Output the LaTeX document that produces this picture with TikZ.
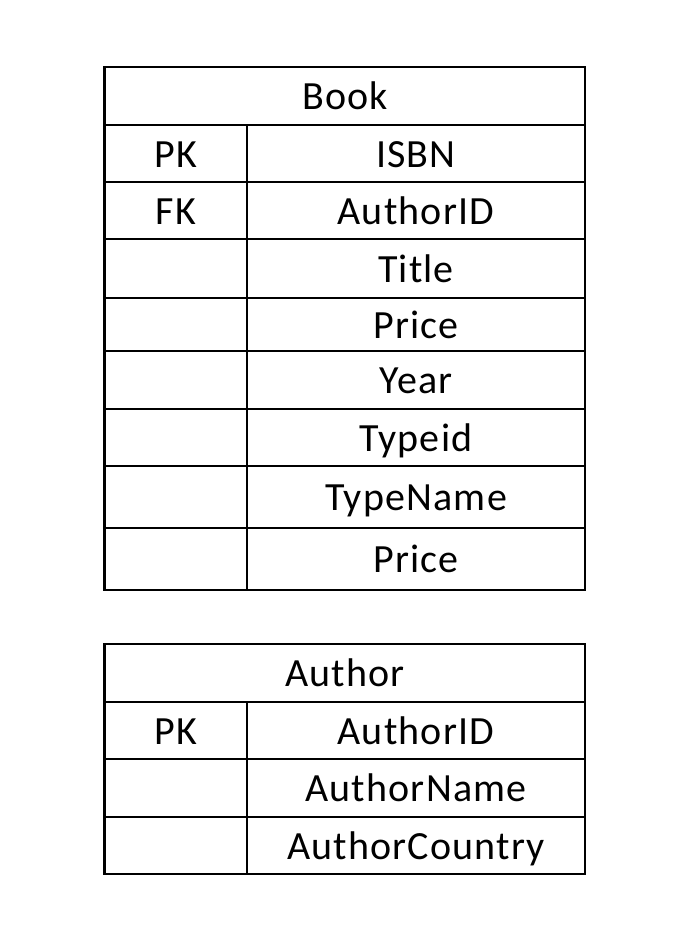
\documentclass[tikz,border=0pt]{standalone}
\usepackage{fontspec}
\setmainfont{Carlito}[LetterSpace=3]
\usetikzlibrary{positioning}
\tikzset{
	gridline/.style={line width=1.6pt},
	celltext/.style={anchor=base, inner sep=0pt, font=\fontsize{30}{36}\selectfont},
}
\begin{document}
\begin{tikzpicture}[x=0.75pt,y=-0.75pt]
		\useasboundingbox (0,0) rectangle (696,936);
		% Book table
		\draw[gridline] (104.5,67) rectangle (585,590);
		\foreach \y in {125,182,239,298,351,409,466,528} \draw[gridline] (104.5,\y) -- (585,\y);
		\draw[gridline] (247,125) -- (247,590);
		\node[celltext] (book) at (345,109.5) {Book};
		\foreach \y/\k/\f [count=\i] in {167/PK/ISBN, 224/FK/AuthorID, 282//Title, 338//Price, 393.5//Year, 451//Typeid, 510.5//TypeName, 572.5//Price}
			{\node[celltext] (bookkey\i) at (175.7,\y) {\k}; \node[celltext] (bookfield\i) at (416,\y) {\f};}
		% Author table
		\draw[gridline] (104.5,644) rectangle (585,874);
		\foreach \y in {702,759,817} \draw[gridline] (104.5,\y) -- (585,\y);
		\draw[gridline] (247,702) -- (247,874);
		\node[celltext] (author) at (345,686.5) {Author};
		\foreach \y/\k/\f [count=\i] in {744/PK/AuthorID, 801.5//AuthorName, 859//AuthorCountry}
			{\node[celltext] (authorkey\i) at (175.7,\y) {\k}; \node[celltext] (authorfield\i) at (416,\y) {\f};}
\end{tikzpicture}
\end{document}
